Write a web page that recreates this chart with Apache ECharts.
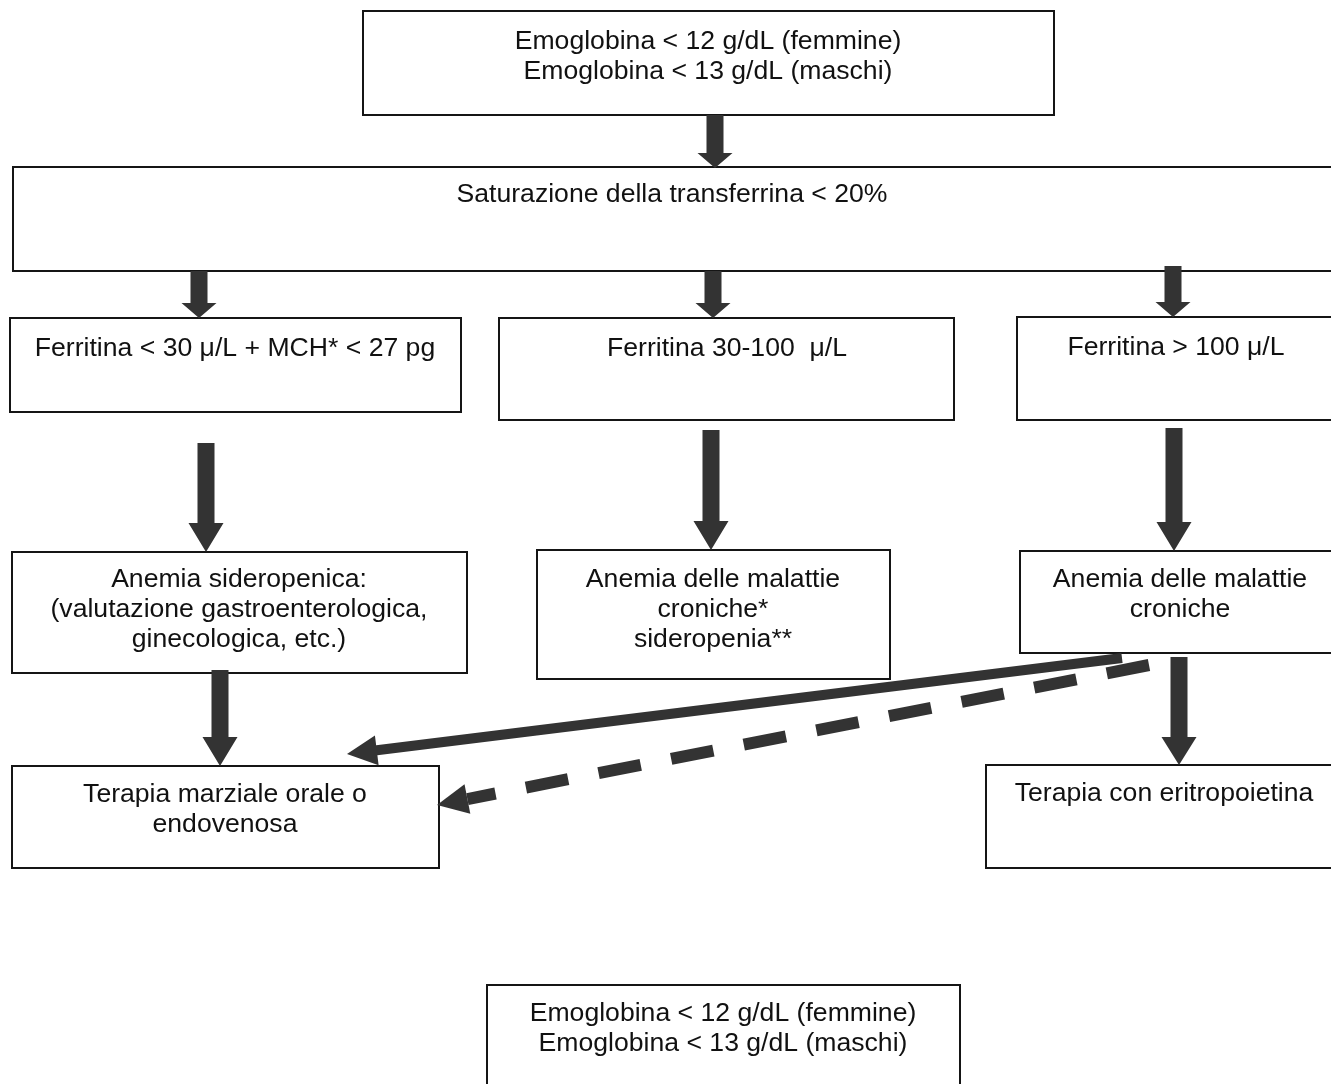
<!DOCTYPE html>
<html>
<head>
<meta charset="utf-8">
<script src="https://cdn.jsdelivr.net/npm/echarts@6/dist/echarts.min.js"></script>
<style>
html,body{margin:0;padding:0;background:#fff;overflow:hidden;}
#chart{width:1331px;height:1084px;}
</style>
</head>
<body>
<div id="chart"></div>
<script>
// ---- content ----
const nodeText = [
  'Emoglobina < 12 g/dL (femmine)\nEmoglobina < 13 g/dL (maschi)',
  'Saturazione della transferrina < 20%',
  'Ferritina < 30 \u03bc/L + MCH* < 27 pg',
  'Ferritina 30-100  \u03bc/L',
  'Ferritina > 100 \u03bc/L',
  'Anemia sideropenica:\n(valutazione gastroenterologica,\nginecologica, etc.)',
  'Anemia delle malattie\ncroniche*\nsideropenia**',
  'Anemia delle malattie\ncroniche',
  'Terapia marziale orale o\nendovenosa',
  'Terapia con eritropoietina',
  'Emoglobina < 12 g/dL (femmine)\nEmoglobina < 13 g/dL (maschi)'
];
// connections: [from, to]
const links = [[0,1],[1,2],[1,3],[1,4],[2,5],[3,6],[4,7],[5,8],[7,8],[7,8],[7,9]];
const linkType = ['block','block','block','block','block','block','block','block','line','dash','block'];

// ---- layout (page coordinates of the drawing) ----
const nodeBox = [
  [363, 11, 1054, 115],
  [13, 167, 1420, 271],
  [10, 318, 461, 412],
  [499, 318, 954, 420],
  [1017, 317, 1420, 420],
  [12, 552, 467, 673],
  [537, 550, 890, 679],
  [1020, 551, 1420, 653],
  [12, 766, 439, 868],
  [986, 765, 1420, 868],
  [487, 985, 960, 1120]
];
// text anchor: [center x, top of first line]
const nodeTextPos = [
  [708, 27],
  [672, 180],
  [235, 334],
  [727, 334],
  [1176, 333],
  [239, 565],
  [713, 565],
  [1180, 565],
  [225, 780],
  [1164, 779],
  [723, 999]
];
const linkPath = [
  [715, 115, 715, 168],
  [199, 271, 199, 318],
  [713, 271, 713, 318],
  [1173, 266, 1173, 317],
  [206, 443, 206, 552],
  [711, 430, 711, 550],
  [1174, 428, 1174, 551],
  [220, 670, 220, 766],
  [1122, 658, 347, 754],
  [1149, 665, 437, 805],
  [1179, 657, 1179, 765]
];
// [shaft width, head width, head length]
const linkShape = [
  [17, 35, 15],
  [17, 35, 15],
  [17, 35, 15],
  [17, 35, 15],
  [17, 35, 29],
  [17, 35, 29],
  [17, 35, 29],
  [17, 35, 29],
  [10, 30, 30],
  [12, 30, 31],
  [17, 35, 28]
];

const FONT = '"Liberation Sans", Arial, sans-serif';
const ARROW = '#333333';

function boxItem(params, api) {
  const i = api.value(0);
  const b = nodeBox[i];
  const p1 = api.coord([b[0], b[1]]);
  const p2 = api.coord([b[2], b[3]]);
  const tp = api.coord(nodeTextPos[i]);
  return {
    type: 'group',
    children: [
      { type: 'rect',
        shape: { x: p1[0], y: p1[1], width: p2[0] - p1[0], height: p2[1] - p1[1] },
        style: { fill: '#fff', stroke: '#151515', lineWidth: 2 } },
      { type: 'text',
        style: { text: nodeText[i], x: tp[0], y: tp[1],
          align: 'center', verticalAlign: 'top', fontFamily: FONT, fontSize: 26.6,
          lineHeight: 30, fill: '#111' } }
    ]
  };
}

function arrowItem(params, api) {
  const k = api.value(0);
  const g = linkPath[k], s = linkShape[k], t = linkType[k];
  const a = api.coord([g[0], g[1]]);
  const b = api.coord([g[2], g[3]]);
  const dx = b[0] - a[0], dy = b[1] - a[1];
  const len = Math.sqrt(dx * dx + dy * dy);
  const ux = dx / len, uy = dy / len;
  const nx = -uy, ny = ux;
  const sw = s[0] / 2, hw = s[1] / 2, hl = s[2];
  const bk = [b[0] - ux * hl, b[1] - uy * hl];
  const P = (p, w) => [p[0] + nx * w, p[1] + ny * w];
  if (t === 'block' || t === 'line') {
    return {
      type: 'polygon',
      shape: { points: [P(a, sw), P(bk, sw), P(bk, hw), b, P(bk, -hw), P(bk, -sw), P(a, -sw)] },
      style: { fill: ARROW }
    };
  }
  return {
    type: 'group',
    children: [
      { type: 'line',
        shape: { x1: a[0], y1: a[1], x2: bk[0], y2: bk[1] },
        style: { stroke: ARROW, lineWidth: s[0], lineDash: [43, 31], lineCap: 'butt' } },
      { type: 'polygon',
        shape: { points: [P(bk, hw), b, P(bk, -hw)] },
        style: { fill: ARROW } }
    ]
  };
}

const chart = echarts.init(document.getElementById('chart'), null, { renderer: 'canvas' });
chart.setOption({
  animation: false,
  backgroundColor: '#fff',
  grid: { left: 0, right: 0, top: 0, bottom: 0 },
  xAxis: { type: 'value', min: 0, max: 1331, show: false },
  yAxis: { type: 'value', min: 0, max: 1084, inverse: true, show: false },
  series: [
    { type: 'custom', name: 'nodes', coordinateSystem: 'cartesian2d', clip: true,
      renderItem: boxItem, data: nodeText.map((_, i) => [i]), silent: true, z: 1 },
    { type: 'custom', name: 'links', coordinateSystem: 'cartesian2d', clip: true,
      renderItem: arrowItem, data: links.map((_, i) => [i]), silent: true, z: 2 }
  ]
});
</script>
</body>
</html>
